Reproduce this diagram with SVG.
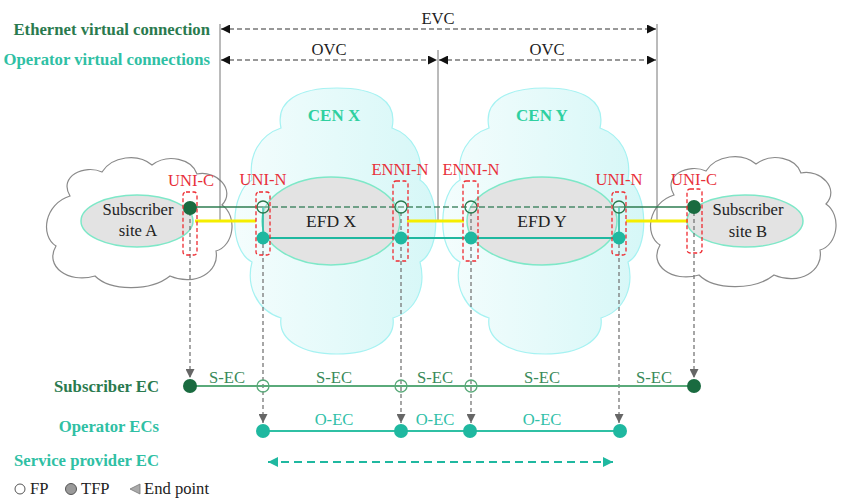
<svg xmlns="http://www.w3.org/2000/svg" width="841" height="499" viewBox="0 0 841 499">
<defs>
<style>
text{font-family:"Liberation Serif","Times New Roman",serif;}
.lbl{font-size:16.7px;font-weight:bold;text-anchor:end;}
.dg{fill:#2a7a4e;}
.tl{fill:#2fc0a4;}
.blk{font-size:16.6px;fill:#222;text-anchor:middle;}
.red{font-size:16.6px;fill:#e8303a;text-anchor:middle;}
.sec{font-size:16.6px;fill:#3a8a5a;text-anchor:middle;}
.oec{font-size:16.6px;fill:#30c0a8;text-anchor:middle;}
.cen{font-size:17px;font-weight:bold;fill:#2fd0a0;text-anchor:middle;}
.gcloud{fill:#fff;stroke:#8a8a8a;stroke-width:1.2;}
.ccloud{fill:url(#cyan);stroke:#a6f2f2;stroke-width:1.2;}
.site{fill:#e3e3e3;stroke:#7ee8c8;stroke-width:1.5;}
.ref{stroke:#777;stroke-width:1;fill:none;}
.dim{stroke:#333;stroke-width:1.2;stroke-dasharray:5,3;fill:none;}
.yel{stroke:#f5ee00;stroke-width:3;}
.gd{stroke:#777;stroke-width:1.3;stroke-dasharray:4,3;fill:none;}
.rbox{fill:none;stroke:#ee2a30;stroke-width:1.3;stroke-dasharray:4,2.5;}
.dkdot{fill:#1a6b40;}
.tdot{fill:#1fb8a0;}
.open{fill:#fff;fill-opacity:0.2;stroke:#2a7a4e;stroke-width:1.3;}
.leg{font-size:16.6px;fill:#222;}
</style>
<linearGradient id="cyan" x1="0" y1="0" x2="1" y2="0">
<stop offset="0" stop-color="#f4fdfd"/>
<stop offset="1" stop-color="#d6f7f7"/>
</linearGradient>
<marker id="ab" viewBox="0 0 10 10" refX="10" refY="5" markerWidth="9" markerHeight="9" markerUnits="userSpaceOnUse" orient="auto-start-reverse">
<path d="M0,0 L10,5 L0,10 Z" fill="#111"/>
</marker>
<marker id="ag" viewBox="0 0 10 10" refX="10" refY="5" markerWidth="9" markerHeight="9" markerUnits="userSpaceOnUse" orient="auto">
<path d="M0,0 L10,5 L0,10 Z" fill="#666"/>
</marker>
<marker id="at" viewBox="0 0 10 10" refX="10" refY="5" markerWidth="10" markerHeight="10" markerUnits="userSpaceOnUse" orient="auto-start-reverse">
<path d="M0,0 L10,5 L0,10 Z" fill="#1fb8a0"/>
</marker>
<path id="cenPath" d="M281,128 C275,100 300,88 337,88 C374,88 398,100 392,128 C412,135 424,155 420,180 C440,192 442,250 420,262 C426,285 418,310 393,318 C396,340 372,354 337,354 C302,354 278,340 281,318 C256,310 246,285 252,262 C228,250 230,192 252,180 C248,155 260,135 281,128 Z"/>
<path id="gPath" d="M70,196 C58,176 85,164 102,172 C112,156 138,153 152,165 C168,153 192,159 197,174 C217,170 236,190 222,205 C238,216 234,246 216,251 C220,272 195,287 170,276 C150,292 110,291 95,276 C68,284 44,266 56,246 C40,236 44,204 70,196 Z"/>
</defs>

<g id="labels-left">
<text class="lbl dg" x="210" y="35">Ethernet virtual connection</text>
<text class="lbl tl" x="210" y="65">Operator virtual connections</text>
<text class="lbl dg" x="159" y="392">Subscriber EC</text>
<text class="lbl tl" x="159" y="432">Operator ECs</text>
<text class="lbl tl" x="159" y="466">Service provider EC</text>
</g>

<g id="cloud-A"><use href="#gPath" class="gcloud"/></g>
<g id="cloud-B"><use href="#gPath" class="gcloud" transform="translate(604,-1)"/></g>
<g id="cen-x">
<use href="#cenPath" class="ccloud"/>
<text class="cen" x="334" y="121">CEN X</text>
</g>
<g id="cen-y">
<use href="#cenPath" class="ccloud" transform="translate(208,0)"/>
<text class="cen" x="542" y="121">CEN Y</text>
</g>

<g id="site-a">
<ellipse class="site" cx="137" cy="221" rx="56" ry="26"/>
<text class="blk" x="138" y="215">Subscriber</text>
<text class="blk" x="138" y="236">site A</text>
</g>
<g id="site-b">
<ellipse class="site" cx="745" cy="221" rx="58" ry="26"/>
<text class="blk" x="748" y="215">Subscriber</text>
<text class="blk" x="748" y="237">site B</text>
</g>
<g id="efd-x">
<ellipse class="site" cx="331" cy="221" rx="69" ry="44"/>
<text class="blk" x="331" y="227" style="font-size:17.5px">EFD X</text>
</g>
<g id="efd-y">
<ellipse class="site" cx="542" cy="221" rx="75" ry="44"/>
<text class="blk" x="542" y="227" style="font-size:17.5px">EFD Y</text>
</g>

<g id="connectors">
<line class="ref" x1="220" y1="24" x2="220" y2="221"/>
<line class="ref" x1="438" y1="50" x2="438" y2="221"/>
<line class="ref" x1="657" y1="24" x2="657" y2="221"/>
<line class="dim" x1="221" y1="29" x2="656" y2="29" marker-start="url(#ab)" marker-end="url(#ab)"/>
<line class="dim" x1="221" y1="60" x2="437" y2="60" marker-start="url(#ab)" marker-end="url(#ab)"/>
<line class="dim" x1="439" y1="60" x2="656" y2="60" marker-start="url(#ab)" marker-end="url(#ab)"/>
<line class="yel" x1="195" y1="221" x2="256" y2="221"/>
<line class="yel" x1="407" y1="221" x2="464" y2="221"/>
<line class="yel" x1="626" y1="221" x2="688" y2="221"/>
<line x1="190" y1="207" x2="263" y2="207" stroke="#2e7d50" stroke-width="1.5"/>
<line x1="263" y1="207" x2="619" y2="207" stroke="#4a8a6a" stroke-width="1.5" stroke-dasharray="6,3"/>
<line x1="619" y1="207" x2="694" y2="207" stroke="#2e7d50" stroke-width="1.5"/>
<line x1="263" y1="238" x2="619" y2="238" stroke="#1fb8a0" stroke-width="2"/>
<line x1="263" y1="207" x2="263" y2="238" stroke="#1fb8a0" stroke-width="1.5"/>
<line x1="619" y1="207" x2="619" y2="238" stroke="#1fb8a0" stroke-width="1.5"/>
<line class="gd" x1="190" y1="212" x2="190" y2="378" marker-end="url(#ag)"/>
<line class="gd" x1="263" y1="244" x2="263" y2="423" marker-end="url(#ag)"/>
<line class="gd" x1="401" y1="212" x2="401" y2="423" marker-end="url(#ag)"/>
<line class="gd" x1="471" y1="212" x2="471" y2="423" marker-end="url(#ag)"/>
<line class="gd" x1="619" y1="244" x2="619" y2="423" marker-end="url(#ag)"/>
<line class="gd" x1="694" y1="212" x2="694" y2="378" marker-end="url(#ag)"/>
<line x1="190" y1="386" x2="694" y2="386" stroke="#5aaa7a" stroke-width="1.8"/>
<line x1="263" y1="431" x2="620" y2="431" stroke="#2fc0a4" stroke-width="2"/>
<line x1="268" y1="462" x2="613" y2="462" stroke="#1fb8a0" stroke-width="2" stroke-dasharray="8,5" marker-start="url(#at)" marker-end="url(#at)"/>
</g>

<g id="dim-labels">
<text class="blk" x="438" y="24">EVC</text>
<text class="blk" x="329" y="55">OVC</text>
<text class="blk" x="547" y="55">OVC</text>
</g>

<g id="uni-c-a">
<circle class="dkdot" cx="190" cy="208" r="7"/>
<rect class="rbox" x="183" y="192" width="14" height="63" rx="3"/>
<text class="red" x="191" y="186">UNI-C</text>
</g>
<g id="uni-n-x">
<circle class="open" cx="263" cy="207" r="6"/>
<circle class="tdot" cx="263" cy="238" r="6.5"/>
<rect class="rbox" x="256" y="192" width="14" height="63" rx="3"/>
<text class="red" x="263" y="185">UNI-N</text>
</g>
<g id="enni-n-x">
<circle class="open" cx="401" cy="207" r="6"/>
<circle class="tdot" cx="401" cy="238" r="6.5"/>
<rect class="rbox" x="393" y="181" width="15" height="80" rx="3"/>
<text class="red" x="400" y="175">ENNI-N</text>
</g>
<g id="enni-n-y">
<circle class="open" cx="471" cy="207" r="6"/>
<circle class="tdot" cx="471" cy="238" r="6.5"/>
<rect class="rbox" x="463" y="181" width="15" height="80" rx="3"/>
<text class="red" x="471" y="175">ENNI-N</text>
</g>
<g id="uni-n-y">
<circle class="open" cx="619" cy="207" r="6"/>
<circle class="tdot" cx="619" cy="238" r="6.5"/>
<rect class="rbox" x="612" y="192" width="14" height="63" rx="3"/>
<text class="red" x="619" y="185">UNI-N</text>
</g>
<g id="uni-c-b">
<circle class="dkdot" cx="694" cy="207" r="7"/>
<rect class="rbox" x="687" y="189" width="15" height="64" rx="3"/>
<text class="red" x="694" y="185">UNI-C</text>
</g>

<g id="subscriber-ec">
<circle class="dkdot" cx="190" cy="386" r="7"/>
<circle cx="263" cy="386" r="6" fill="none" stroke="#5aaa7a" stroke-width="1.3"/>
<circle cx="401" cy="386" r="6" fill="none" stroke="#5aaa7a" stroke-width="1.3"/>
<circle cx="471" cy="386" r="6" fill="none" stroke="#5aaa7a" stroke-width="1.3"/>
<circle class="dkdot" cx="694" cy="386" r="7"/>
<text class="sec" x="227" y="383">S-EC</text>
<text class="sec" x="334" y="383">S-EC</text>
<text class="sec" x="435" y="383">S-EC</text>
<text class="sec" x="542" y="383">S-EC</text>
<text class="sec" x="654" y="383">S-EC</text>
</g>
<g id="operator-ecs">
<circle class="tdot" cx="263" cy="431" r="7"/>
<circle class="tdot" cx="401" cy="431" r="7"/>
<circle class="tdot" cx="470" cy="431" r="7"/>
<circle class="tdot" cx="620" cy="431" r="7"/>
<text class="oec" x="334" y="425">O-EC</text>
<text class="oec" x="435" y="425">O-EC</text>
<text class="oec" x="542" y="425">O-EC</text>
</g>

<g id="legend">
<circle cx="20" cy="489" r="5" fill="#fff" stroke="#555" stroke-width="1"/>
<text class="leg" x="30" y="494">FP</text>
<circle cx="71" cy="489" r="5.5" fill="#9a9a9a" stroke="#555" stroke-width="1"/>
<text class="leg" x="81" y="494">TFP</text>
<path d="M130,489 L140,484 L140,494 Z" fill="#aaa" stroke="#777" stroke-width="0.8"/>
<text class="leg" x="144" y="494">End point</text>
</g>
</svg>
